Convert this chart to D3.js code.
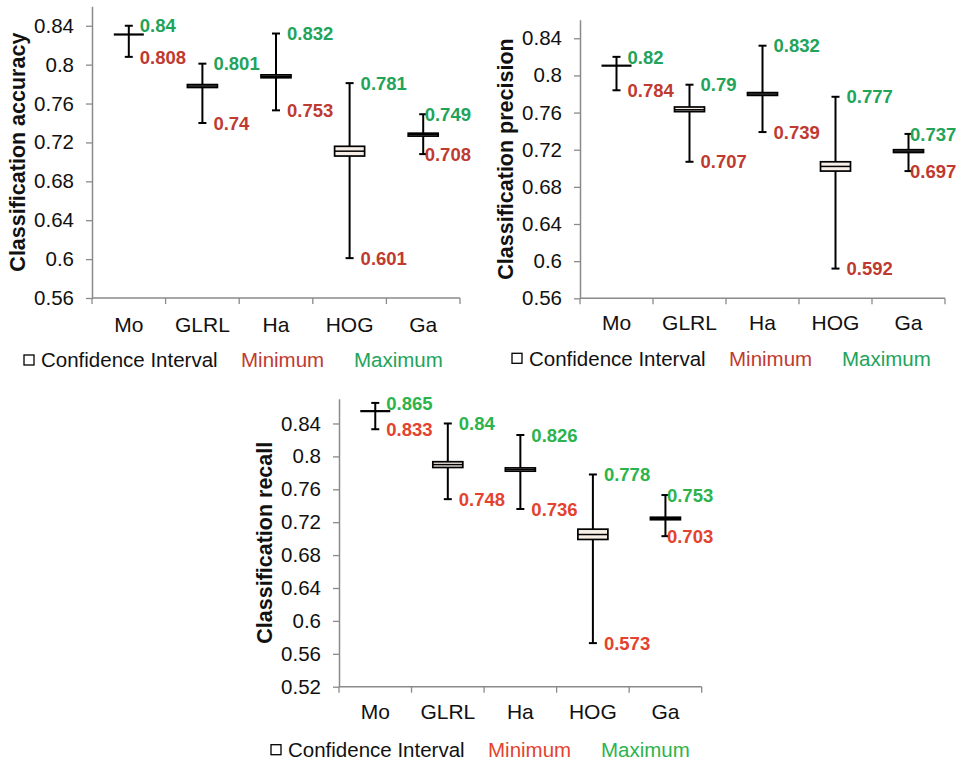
<!DOCTYPE html>
<html>
<head>
<meta charset="utf-8">
<script src="https://cdn.jsdelivr.net/npm/d3@7"></script>
<style>
  html, body { margin: 0; padding: 0; background: #ffffff; }
  svg { display: block; font-family: "Liberation Sans", Arial, sans-serif; }
</style>
</head>
<body>
<svg id="chart" width="956" height="763"></svg>
<script>
// ---------------- DATA ----------------
const categories = ["Mo", "GLRL", "Ha", "HOG", "Ga"];

// Classification accuracy
const accMin   = [0.808, 0.740, 0.753, 0.601, 0.708];
const accMax   = [0.840, 0.801, 0.832, 0.781, 0.749];
const accLow   = [0.831, 0.7765, 0.7865, 0.706, 0.7265];
const accMean  = [0.831, 0.778, 0.788, 0.711, 0.728];
const accHigh  = [0.831, 0.7795, 0.7895, 0.716, 0.7295];
const accTicks = [0.56, 0.60, 0.64, 0.68, 0.72, 0.76, 0.80, 0.84];

// Classification precision
const precMin   = [0.784, 0.707, 0.739, 0.592, 0.697];
const precMax   = [0.820, 0.790, 0.832, 0.777, 0.737];
const precLow   = [0.8105, 0.761, 0.7785, 0.697, 0.717];
const precMean  = [0.8105, 0.763, 0.780, 0.702, 0.7185];
const precHigh  = [0.8105, 0.766, 0.7815, 0.707, 0.720];
const precTicks = [0.56, 0.60, 0.64, 0.68, 0.72, 0.76, 0.80, 0.84];

// Classification recall
const recMin   = [0.833, 0.748, 0.736, 0.573, 0.703];
const recMax   = [0.865, 0.840, 0.826, 0.778, 0.753];
const recLow   = [0.855, 0.7865, 0.782, 0.699, 0.723];
const recMean  = [0.855, 0.790, 0.784, 0.705, 0.7245];
const recHigh  = [0.855, 0.7935, 0.786, 0.7115, 0.726];
const recTicks = [0.52, 0.56, 0.60, 0.64, 0.68, 0.72, 0.76, 0.80, 0.84];

const legendLabels = ["Confidence Interval", "Minimum", "Maximum"];

// ---------------- LAYOUT ----------------
const panels = [
  { title: "Classification accuracy", min: accMin, max: accMax, low: accLow, mean: accMean, high: accHigh,
    ticks: accTicks, domain: [0.56, 0.86], x0: 92, x1: 460, yBottom: 298, yTop: 6.3,
    red: "#bf3a30", green: "#22a35a", legendDy: 62, catDy: 34 },
  { title: "Classification precision", min: precMin, max: precMax, low: precLow, mean: precMean, high: precHigh,
    ticks: precTicks, domain: [0.56, 0.86], x0: 580, x1: 945, yBottom: 298.3, yTop: 19.7,
    red: "#bf3a30", green: "#22a35a", legendDy: 60, catDy: 32 },
  { title: "Classification recall", min: recMin, max: recMax, low: recLow, mean: recMean, high: recHigh,
    ticks: recTicks, domain: [0.52, 0.87], x0: 339, x1: 701.7, yBottom: 686.7, yTop: 398.8,
    red: "#e3432e", green: "#2db34c", legendDy: 63, catDy: 32 }
];

const svg = d3.select("#chart");
const axisColor = "#8a8a8a";

panels.forEach(p => {
  const g = svg.append("g");
  const x = d3.scaleBand().domain(categories).range([p.x0, p.x1]).padding(0);
  const y = d3.scaleLinear().domain(p.domain).range([p.yBottom, p.yTop]);
  const cx = c => x(c) + x.bandwidth() / 2;

  // y axis
  const yAxis = g.append("g")
    .attr("transform", `translate(${p.x0},0)`)
    .call(d3.axisLeft(y).tickValues(p.ticks).tickSize(6).tickSizeOuter(0).tickPadding(12)
      .tickFormat(d => String(+d.toFixed(2))));
  yAxis.select(".domain").attr("stroke", axisColor).attr("stroke-width", 1.5);
  yAxis.selectAll(".tick line").attr("stroke", axisColor).attr("stroke-width", 1.3);
  yAxis.selectAll(".tick text").attr("fill", "#111").attr("font-size", 20.5)
    .attr("font-family", "'Liberation Sans', Arial, sans-serif");

  // x axis line with boundary ticks
  g.append("line").attr("x1", p.x0).attr("x2", p.x1).attr("y1", p.yBottom).attr("y2", p.yBottom)
    .attr("stroke", axisColor).attr("stroke-width", 1.5);
  const bounds = categories.map(c => x(c)).concat([p.x1]);
  g.selectAll(".xt").data(bounds).enter().append("line")
    .attr("x1", d => d).attr("x2", d => d).attr("y1", p.yBottom).attr("y2", p.yBottom + 6)
    .attr("stroke", axisColor).attr("stroke-width", 1.3);

  // category labels
  g.selectAll(".cat").data(categories).enter().append("text")
    .attr("x", d => cx(d)).attr("y", p.yBottom + p.catDy)
    .attr("text-anchor", "middle").attr("font-size", 21).attr("fill", "#111")
    .text(d => d);

  // y title
  g.append("text")
    .attr("transform", `translate(${p.x0 - 67},${(p.yBottom + p.yTop) / 2}) rotate(-90)`)
    .attr("text-anchor", "middle").attr("font-size", 21.5).attr("font-weight", "bold").attr("fill", "#111")
    .text(p.title);

  // whiskers, boxes, labels
  categories.forEach((c, i) => {
    const xc = cx(c);
    g.append("line").attr("x1", xc).attr("x2", xc).attr("y1", y(p.max[i])).attr("y2", y(p.min[i]))
      .attr("stroke", "#000").attr("stroke-width", 2);
    [p.max[i], p.min[i]].forEach(v => {
      g.append("line").attr("x1", xc - 4).attr("x2", xc + 4).attr("y1", y(v)).attr("y2", y(v))
        .attr("stroke", "#000").attr("stroke-width", 2);
    });
    const top = y(p.high[i]), bot = y(p.low[i]);
    if (bot - top > 0.5) {
      g.append("rect").attr("x", xc - 15).attr("width", 30)
        .attr("y", top).attr("height", bot - top)
        .attr("fill", "#f7eee8").attr("stroke", "#000").attr("stroke-width", 1.7);
    }
    g.append("line").attr("x1", xc - 15).attr("x2", xc + 15).attr("y1", y(p.mean[i])).attr("y2", y(p.mean[i]))
      .attr("stroke", "#000").attr("stroke-width", bot - top > 0.5 ? 1.5 : 2.2);

    const off = i === categories.length - 1 ? 1.5 : 11;
    g.append("text").attr("x", xc + off).attr("y", y(p.max[i])).attr("dy", "0.36em")
      .attr("font-size", 18.5).attr("font-weight", "bold").attr("fill", p.green)
      .text(String(p.max[i]));
    g.append("text").attr("x", xc + off).attr("y", y(p.min[i])).attr("dy", "0.36em")
      .attr("font-size", 18.5).attr("font-weight", "bold").attr("fill", p.red)
      .text(String(p.min[i]));
  });

  // legend
  const ly = p.yBottom + p.legendDy;
  g.append("rect").attr("x", p.x0 - 68).attr("y", ly - 5).attr("width", 10).attr("height", 10)
    .attr("fill", "#fff").attr("stroke", "#000").attr("stroke-width", 1.3);
  g.append("text").attr("x", p.x0 - 51).attr("y", ly).attr("dy", "0.36em")
    .attr("font-size", 20.5).attr("fill", "#111").text(legendLabels[0]);
  g.append("text").attr("x", p.x0 + 149).attr("y", ly).attr("dy", "0.36em")
    .attr("font-size", 20.5).attr("fill", p.red).text(legendLabels[1]);
  g.append("text").attr("x", p.x0 + 262).attr("y", ly).attr("dy", "0.36em")
    .attr("font-size", 20.5).attr("fill", p.green).text(legendLabels[2]);
});
</script>
</body>
</html>
